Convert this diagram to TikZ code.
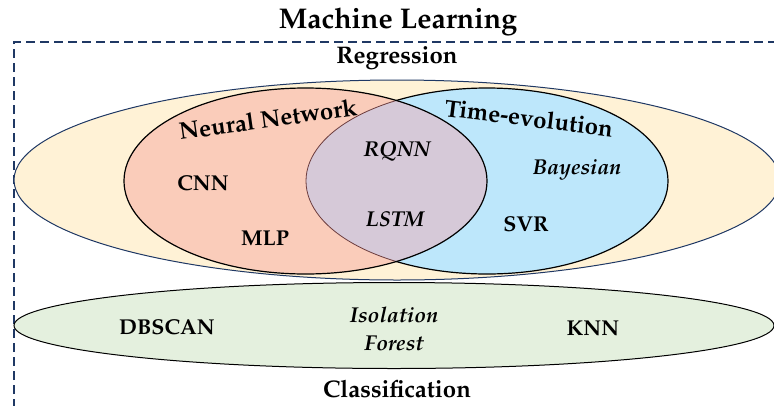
\documentclass[tikz,border=0pt]{standalone}
\usepackage[T1]{fontenc}
\usepackage{mathpazo}
\usepackage{tikz}

\definecolor{navy}{RGB}{31,56,100}
\definecolor{cream}{RGB}{255,242,214}
\definecolor{salmon}{RGB}{250,204,186}
\definecolor{skyblue}{RGB}{189,231,251}
\definecolor{mauve}{RGB}{214,201,216}
\definecolor{mint}{RGB}{228,240,222}
\definecolor{edgebrown}{RGB}{110,60,60}

\tikzset{
  algo/.style={font=\fontsize{21.5}{24}\selectfont\bfseries, inner sep=0pt},
  qalgo/.style={font=\fontsize{21.5}{28}\selectfont\bfseries\itshape, align=center, inner sep=0pt},
  groupname/.style={font=\fontsize{24}{28}\selectfont\bfseries, inner sep=0pt},
  settitle/.style={font=\fontsize{24}{28}\selectfont\bfseries, inner sep=0pt},
}

\begin{document}
\begin{tikzpicture}[x=1pt,y=-1pt]
\useasboundingbox (0,0) rectangle (774,405);
\draw[navy, line width=2, dash pattern=on 9 off 5] (14,450) -- (14,42) -- (800,42); % frame
\node[font=\fontsize{28.5}{32}\selectfont\bfseries, inner sep=0pt] (ml) at (398,22) {Machine Learning};
\node[settitle] (reg) at (397,58) {Regression};
\node[settitle] (cls) at (397,389) {Classification};

\filldraw[fill=cream, draw=navy, line width=1] (397,180) ellipse [x radius=383, y radius=100]; % regression
\filldraw[fill=mint, draw=black, line width=1] (394,325.5) ellipse [x radius=380, y radius=43]; % classification

\fill[salmon] (305.5,181) ellipse [x radius=181.5, y radius=93]; % neural network
\fill[skyblue] (487,181) ellipse [x radius=181, y radius=93]; % time-evolution
\begin{scope}
\clip (305.5,181) ellipse [x radius=181.5, y radius=93];
\fill[mauve] (487,181) ellipse [x radius=181, y radius=93];
\draw[edgebrown, line width=0.8] (487,181) ellipse [x radius=181, y radius=93];
\end{scope}
\draw[line width=1.2] (305.5,181) ellipse [x radius=181.5, y radius=93];
\begin{scope}[even odd rule]
\clip (0,0) rectangle (774,405) (305.5,181) ellipse [x radius=181.5, y radius=93];
\draw[line width=1.2] (487,181) ellipse [x radius=181, y radius=93];
\end{scope}

\node[groupname, rotate=8] (nn) at (268,119) {Neural Network};
\node[groupname, rotate=-7] (te) at (529,118) {Time-evolution};

\node[qalgo] (rqnn) at (397,151) {RQNN};
\node[qalgo] (lstm) at (395,219) {LSTM};
\node[algo] (cnn) at (203,183) {CNN};
\node[algo] (mlp) at (265,238) {MLP};
\node[qalgo] (bayes) at (577,170) {Bayesian};
\node[algo] (svr) at (526,224) {SVR};

\node[algo] (dbscan) at (167,327) {DBSCAN};
\node[qalgo] (iforest) at (394,329) {Isolation\\Forest};
\node[algo] (knn) at (593,328) {KNN};
\end{tikzpicture}
\end{document}
